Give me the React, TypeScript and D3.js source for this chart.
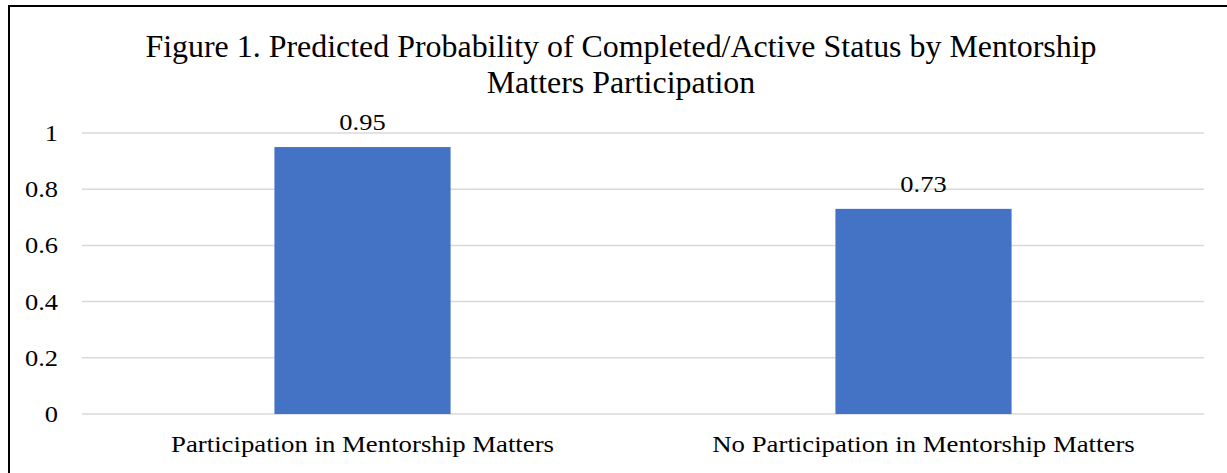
import React from "react";
import * as d3 from "d3";

const categories = [
  "Participation in Mentorship Matters",
  "No Participation in Mentorship Matters",
];
const values = [0.95, 0.73];
const valueLabels = ["0.95", "0.73"];
const yTicks = [0, 0.2, 0.4, 0.6, 0.8, 1];
const yTickLabels = ["0", "0.2", "0.4", "0.6", "0.8", "1"];
const titleLines = [
  "Figure 1. Predicted Probability of Completed/Active Status by Mentorship",
  "Matters Participation",
];

const W = 1227;
const H = 473;
const FONT = "'Liberation Serif', 'Times New Roman', serif";

function T({ x, y, sx, size, anchor, dy, children }: any) {
  return (
    <text
      transform={`translate(${x},${y}) scale(${sx},1)`}
      x={0}
      y={0}
      dy={dy}
      textAnchor={anchor}
      fontSize={size}
      fill="#000"
    >
      {children}
    </text>
  );
}

export default function App() {
  const plotLeft = 82;
  const plotRight = 1204;
  const plotTop = 133;
  const plotBottom = 414;

  const x = d3.scaleBand<string>().domain(categories).range([plotLeft, plotRight]).padding(0);
  const y = d3.scaleLinear().domain([0, 1]).range([plotBottom, plotTop]);
  const barW = x.bandwidth() * 0.314;

  return (
    <svg
      width={W}
      height={H}
      style={{ position: "absolute", left: 0, top: 0, background: "#fff" }}
      fontFamily={FONT}
    >
      <rect x={0} y={0} width={W} height={H} fill="#fff" />
      <rect x={9} y={6} width={1240} height={500} fill="none" stroke="#000" strokeWidth={2} />
      {titleLines.map((t, i) => (
        <T key={i} x={621} y={57 + i * 36} sx={1.03} size={31} anchor="middle">
          {t}
        </T>
      ))}
      {yTicks.map((t, i) => (
        <g key={i}>
          <line x1={plotLeft} x2={plotRight} y1={y(t)} y2={y(t)} stroke="#d9d9d9" strokeWidth={1.5} />
          <T x={58} y={y(t)} dy="0.35em" sx={1.15} size={23} anchor="end">
            {yTickLabels[i]}
          </T>
        </g>
      ))}
      {categories.map((c, i) => {
        const cx = (x(c) as number) + x.bandwidth() / 2;
        return (
          <g key={c}>
            <rect x={cx - barW / 2} y={y(values[i])} width={barW} height={plotBottom - y(values[i])} fill="#4472C4" />
            <T x={cx} y={y(values[i]) - 17} sx={1.15} size={23} anchor="middle">
              {valueLabels[i]}
            </T>
            <T x={cx} y={452} sx={1.14} size={23.5} anchor="middle">
              {c}
            </T>
          </g>
        );
      })}
    </svg>
  );
}
